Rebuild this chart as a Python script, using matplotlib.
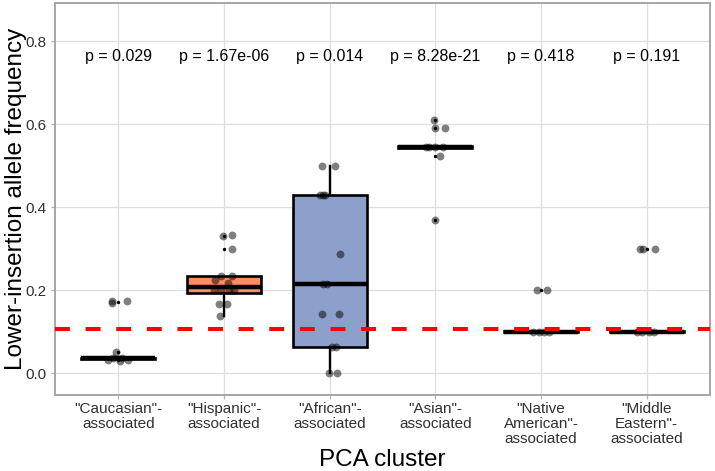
import matplotlib
matplotlib.use("Agg")
import matplotlib.pyplot as plt
import numpy as np

plt.rcParams['font.family'] = ['Liberation Sans', 'DejaVu Sans']

# ---------------- data ----------------
categories = ['"Caucasian"-\nassociated', '"Hispanic"-\nassociated', '"African"-\nassociated',
              '"Asian"-\nassociated', '"Native\nAmerican"-\nassociated', '"Middle\nEastern"-\nassociated']
p_labels = ['p = 0.029', 'p = 1.67e-06', 'p = 0.014', 'p = 8.28e-21', 'p = 0.418', 'p = 0.191']
box_colors = ['#66C2A5', '#FC8D62', '#8DA0CB', '#E78AC3', '#A6D854', '#FFD92F']

# box statistics per cluster
whisker_lo = [0.034, 0.137, 0.000, 0.543, 0.100, 0.100]
q1         = [0.034, 0.192, 0.0625, 0.543, 0.099, 0.099]
median     = [0.035, 0.208, 0.214, 0.545, 0.100, 0.100]
q3         = [0.036, 0.234, 0.429, 0.547, 0.101, 0.101]
whisker_hi = [0.036, 0.234, 0.500, 0.547, 0.101, 0.101]
outliers = [
    [0.171, 0.051, 0.031],
    [0.330, 0.300],
    [],
    [0.610, 0.591, 0.524, 0.369],
    [0.200],
    [0.300],
]

pt_values = [
    [0.173, 0.168, 0.174, 0.051, 0.031, 0.029, 0.031, 0.036, 0.036],
    [0.330, 0.333, 0.299, 0.234, 0.234, 0.224, 0.218, 0.200, 0.200, 0.200, 0.200, 0.166, 0.166, 0.137],
    [0.500, 0.500, 0.429, 0.429, 0.429, 0.286, 0.214, 0.214, 0.143, 0.143, 0.0625, 0.0625, 0.0, 0.0],
    [0.610, 0.591, 0.591, 0.545, 0.545, 0.545, 0.545, 0.524, 0.369],
    [0.200, 0.200, 0.100, 0.100, 0.100, 0.100],
    [0.300, 0.300, 0.300, 0.100, 0.100, 0.100, 0.100],
]
pt_jitter = [
    [-0.06, -0.06, 0.08, -0.02, -0.095, 0.015, 0.09, -0.05, 0.03],
    [-0.01, 0.075, 0.08, -0.03, 0.078, -0.09, 0.035, -0.096, -0.026, 0.05, 0.09, -0.05, 0.03, -0.036],
    [-0.073, 0.053, -0.09, -0.06, -0.04, 0.094, -0.063, -0.022, -0.069, 0.088, 0.02, 0.063, -0.007, 0.069],
    [-0.01, 0.0, 0.094, -0.088, -0.06, 0.0, 0.07, 0.04, 0.0],
    [-0.04, 0.06, -0.08, -0.02, 0.03, 0.08],
    [-0.06, -0.03, 0.08, -0.09, -0.04, 0.02, 0.07],
]
threshold = 0.105

# ---------------- figure ----------------
fig = plt.figure(figsize=(7.15, 4.71), dpi=100)
ax = fig.add_axes([55/715, 1 - 395/471, 655/715, 392/471])

positions = np.arange(1, len(categories) + 1)
stats = []
for i in range(len(categories)):
    stats.append(dict(med=median[i], q1=q1[i], q3=q3[i], whislo=whisker_lo[i],
                      whishi=whisker_hi[i], fliers=[]))
bp = ax.bxp(stats, positions=positions, widths=0.7, patch_artist=True, showcaps=False,
            showfliers=False,
            boxprops=dict(linewidth=1.9, edgecolor='black'),
            whiskerprops=dict(linewidth=1.7, color='black'),
            medianprops=dict(linewidth=3.2, color='black', solid_capstyle='butt'),
            zorder=2)
for patch, c in zip(bp['boxes'], box_colors):
    patch.set_facecolor(c)

# outliers (small black dots)
for i, vals in enumerate(outliers):
    ax.scatter(np.full(len(vals), positions[i]), vals, s=6, color='black', zorder=3, linewidths=0)

# jittered points
for i, vals in enumerate(pt_values):
    xs = positions[i] + np.array(pt_jitter[i])
    ax.scatter(xs, vals, s=32, color='black', alpha=0.5, linewidths=0, zorder=4)

ax.axhline(threshold, color='#FF0000', linewidth=2.9, dashes=(3.7, 3.9), zorder=5)

for i, t in enumerate(p_labels):
    ax.text(positions[i], 0.762, t, ha='center', va='center', fontsize=11.5, color='black')

ax.set_xlim(0.4, 6.6)
ax.set_ylim(-0.053, 0.892)
ax.set_yticks([0.0, 0.2, 0.4, 0.6, 0.8])
ax.set_yticklabels(['0.0', '0.2', '0.4', '0.6', '0.8'])
ax.set_xticks(positions)
ax.set_xticklabels(categories, linespacing=1.1)

ax.grid(True, color='#DEDEDE', linewidth=0.9)
ax.set_axisbelow(True)
for s in ax.spines.values():
    s.set_color('#A6A6A6')
    s.set_linewidth(1.4)
ax.tick_params(axis='both', colors='#B3B3B3', length=3, width=0.9, labelsize=11,
               labelcolor='#303030', pad=2)
ax.tick_params(axis='y', pad=3)

ax.set_xlabel('PCA cluster', fontsize=17.5, color='black', labelpad=2)
ax.set_ylabel('Lower-insertion allele frequency', fontsize=17.5, color='black')
ax.yaxis.set_label_coords(-0.043, 0.5)

fig.savefig('out.png', dpi=100)
